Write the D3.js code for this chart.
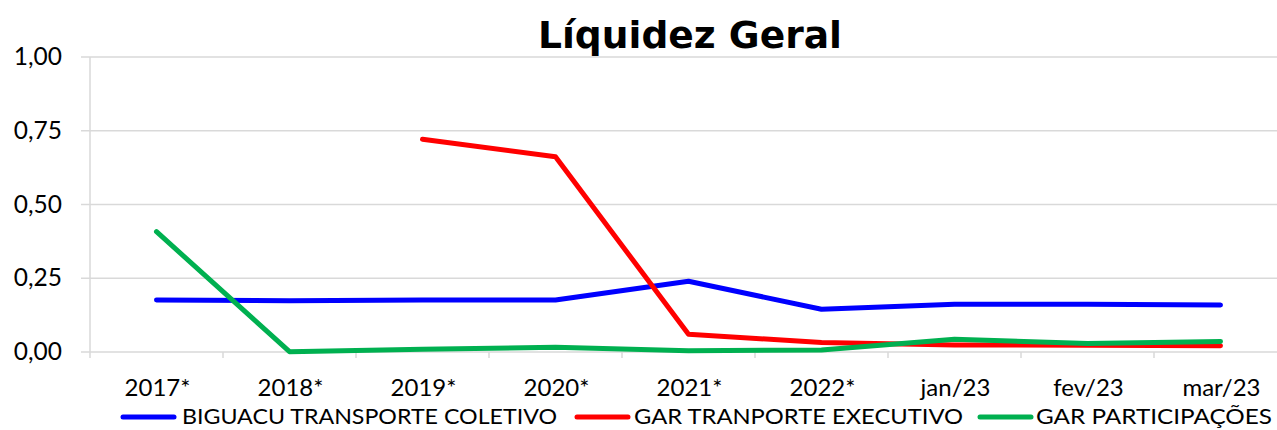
<!DOCTYPE html>
<html><head><meta charset="utf-8">
<script src="https://cdn.jsdelivr.net/npm/d3@7"></script>
<style>body{margin:0;background:#fff}svg{display:block}</style>
</head><body>
<svg id="c" width="1277" height="430"></svg>
<script>
const categories = ["2017*","2018*","2019*","2020*","2021*","2022*","jan/23","fev/23","mar/23"];
const biguacu = [0.176,0.174,0.176,0.176,0.240,0.145,0.162,0.162,0.159];
const garExec = [null,null,0.721,0.662,0.060,0.032,0.024,0.023,0.021];
const garPart = [0.408,0.001,0.009,0.016,0.004,0.007,0.043,0.029,0.036];
const yTicks = [0,0.25,0.5,0.75,1];
const seriesNames = ["BIGUACU TRANSPORTE COLETIVO","GAR TRANPORTE EXECUTIVO","GAR PARTICIPAÇÕES"];
const colors = ["#0000ff","#ff0000","#00b050"];

(function(){
const svg = d3.select("#c");
const pL = 90, pR = 90 + 133*9, pT = 57, pB = 352;
const x = d3.scaleBand().domain(categories).range([pL, pR]);
const y = d3.scaleLinear().domain([0,1]).range([pB, pT]);
const font = "Lato, 'Open Sans', sans-serif";

svg.append("g").selectAll("line").data(yTicks).join("line")
  .attr("x1", pL-9).attr("x2", 1277).attr("y1", d=>y(d)).attr("y2", d=>y(d))
  .attr("stroke", "#d9d9d9").attr("stroke-width", 1.5);
svg.append("line").attr("x1", pL).attr("x2", pL).attr("y1", pT).attr("y2", pB+6)
  .attr("stroke", "#d9d9d9").attr("stroke-width", 1.5);
svg.append("g").selectAll("line").data(categories.slice(1)).join("line")
  .attr("x1", d=>x(d)).attr("x2", d=>x(d)).attr("y1", pB).attr("y2", pB+6)
  .attr("stroke", "#d9d9d9").attr("stroke-width", 1.5);

svg.append("g").selectAll("text").data(yTicks).join("text")
  .attr("x", 62).attr("y", d=>y(d)+8).attr("text-anchor","end")
  .attr("font-family", font).attr("font-size", 24.5).attr("fill","#000")
  .text(d=>d3.format(".2f")(d).replace(".", ","));
svg.append("g").selectAll("text").data(categories).join("text")
  .attr("x", d=>x(d)+x.bandwidth()/2+1).attr("y", 396).attr("text-anchor","middle")
  .attr("font-family", font).attr("font-size", 24).attr("fill","#000")
  .text(d=>d);

svg.append("text").attr("x", 690).attr("y", 48).attr("text-anchor","middle")
  .attr("font-family", "'DejaVu Sans', sans-serif").attr("font-weight","bold")
  .attr("font-size", 38).attr("textLength", 304).attr("lengthAdjust","spacingAndGlyphs")
  .attr("fill","#000").text("Líquidez Geral");

const line = d3.line().defined(d=>d.v!=null).x(d=>x(d.c)+x.bandwidth()/2).y(d=>y(d.v));
[biguacu, garExec, garPart].forEach((s,i)=>{
  svg.append("path").datum(categories.map((c,j)=>({c, v:s[j]})))
    .attr("d", line).attr("fill","none").attr("stroke", colors[i])
    .attr("stroke-width", 5).attr("stroke-linecap","round").attr("stroke-linejoin","round");
});

const legLine = [123, 577, 980];
const legText = [182, 634, 1036];
const legW = [375, 329, 236];
seriesNames.forEach((n,i)=>{
  svg.append("line").attr("x1", legLine[i]).attr("x2", legLine[i]+51).attr("y1", 417).attr("y2", 417)
    .attr("stroke", colors[i]).attr("stroke-width", 5).attr("stroke-linecap","round");
  svg.append("text").attr("x", legText[i]).attr("y", 424)
    .attr("font-family", font).attr("font-size", 22).attr("fill","#000")
    .attr("textLength", legW[i]).attr("lengthAdjust","spacingAndGlyphs").text(n);
});
})();
</script>
</body></html>
